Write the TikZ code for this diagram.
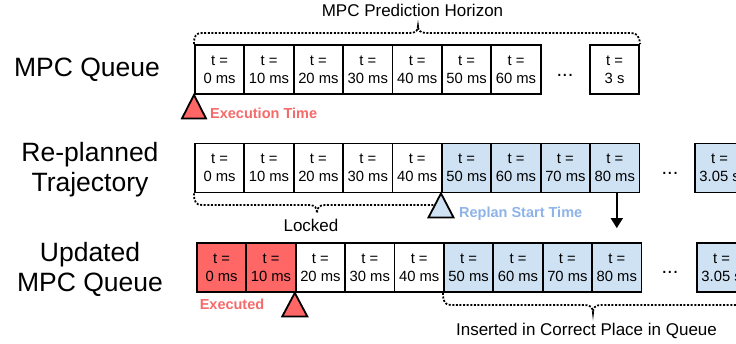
\documentclass[tikz,border=0pt]{standalone}
\usepackage{fontspec}
\setmainfont{Liberation Sans}
\usetikzlibrary{arrows.meta,calc}
\definecolor{execred}{HTML}{FF6666}
\definecolor{exectext}{HTML}{F56A6A}
\definecolor{replanblue}{HTML}{CFE2F3}
\definecolor{replantext}{HTML}{8DB3E8}

\begin{document}
\begin{tikzpicture}[x=1pt,y=-1pt,
  slot/.style={draw, line width=1.8pt, minimum width=49.4pt, minimum height=49pt,
    inner sep=0pt, align=center, anchor=west,
    font=\fontsize{14.8}{17.8}\selectfont},
  done/.style={slot, fill=execred},
  replan/.style={slot, fill=replanblue},
  rowlabel/.style={inner sep=0pt, align=center, font=\fontsize{26.5}{30}\selectfont},
  note/.style={inner sep=0pt, font=\fontsize{17}{20}\selectfont},
  tag/.style={inner sep=0pt, font=\fontsize{14.5}{17}\selectfont\bfseries},
  ellipsis/.style={inner sep=0pt, anchor=base, font=\fontsize{20}{22}\selectfont},
  brace/.style={line width=1.8pt, dash pattern=on 2pt off 1.6pt},
  marker/.style={draw, line width=1.8pt},
]
\clip (0,0) rectangle (736,343);

% row labels
\node[rowlabel] (lqueue) at (87,69.5) {MPC Queue};
\node[rowlabel] (lreplan) at (90,169.5) {Re-planned\\Trajectory};
\node[rowlabel] (lupdated) at (90,269.5) {Updated\\MPC Queue};

% MPC queue
\foreach \t [count=\i from 0] in {0 ms,10 ms,20 ms,30 ms,40 ms,50 ms,60 ms}
  \node[slot] (a\i) at ({194+49.4*\i},69.5) {t =\\\t};
\node[ellipsis] (adots) at (565,76) {...};
\node[slot] (aend) at (589,69.5) {t =\\3 s};

% re-planned trajectory
\foreach \t [count=\i from 0] in {0 ms,10 ms,20 ms,30 ms,40 ms}
  \node[slot] (b\i) at ({194+49.4*\i},168) {t =\\\t};
\foreach \t [count=\i from 5] in {50 ms,60 ms,70 ms,80 ms}
  \node[replan] (b\i) at ({194+49.4*\i},168) {t =\\\t};
\node[ellipsis] (bdots) at (670,174) {...};
\node[replan] (bend) at (694,168) {t =\\3.05 s};

% updated queue
\foreach \t [count=\i from 0] in {0 ms,10 ms}
  \node[done] (c\i) at ({196+49.4*\i},267.5) {t =\\\t};
\foreach \t [count=\i from 2] in {20 ms,30 ms,40 ms}
  \node[slot] (c\i) at ({196+49.4*\i},267.5) {t =\\\t};
\foreach \t [count=\i from 5] in {50 ms,60 ms,70 ms,80 ms}
  \node[replan] (c\i) at ({196+49.4*\i},267.5) {t =\\\t};
\node[ellipsis] (cdots) at (670,273) {...};
\node[replan] (cend) at (696,267.5) {t =\\3.05 s};

% prediction horizon brace
\draw[brace] (a0.north west) .. controls (194,36) and (196,33) .. (202,33) -- (410,33)
  .. controls (416,33) and (418,30) .. (418,26)
  .. controls (418,30) and (420,33) .. (426,33) -- (631,33)
  .. controls (637,33) and (639,36) .. (aend.north east);
\node[note, anchor=base] (horizon) at (412.5,16) {MPC Prediction Horizon};

% locked brace
\draw[brace] (b0.south west) .. controls (194,202) and (196,205) .. (202,205) -- (309,205)
  .. controls (315,205) and (317,208) .. (317,213)
  .. controls (317,208) and (319,205) .. (325,205) -- (433,205)
  .. controls (439,205) and (441,202) .. (b5.south west);
\node[note, anchor=base] (locked) at (311,231.7) {Locked};

% inserted brace
\draw[brace] (c5.south west) .. controls (443,302) and (445,305) .. (451,305) -- (585,305)
  .. controls (591,305) and (593,308) .. (593,313)
  .. controls (593,308) and (595,305) .. (601,305) -- (745,305);
\node[note, anchor=base] (inserted) at (586.5,335) {Inserted in Correct Place in Queue};

% time markers
\draw[marker, fill=execred] (a0.south west) -- ++(12,23.5) -- ++(-24,0) -- cycle;
\node[tag, text=exectext, anchor=base west] (exectime) at (210,118.3) {Execution Time};

\draw[marker, fill=replanblue] (b5.south west) -- ++(12.5,24) -- ++(-25,0) -- cycle;
\node[tag, text=replantext, anchor=base west] (replanstart) at (459,217.3) {Replan Start Time};

\draw[marker, fill=execred] (c2.south west) -- ++(12.5,23.5) -- ++(-25,0) -- cycle;
\node[tag, text=exectext, anchor=base] (executed) at (232,309.3) {Executed};

% insertion arrow
\coordinate (arrowtip) at ($(c8.north)+(0,-14)$);
\draw[line width=1.5pt, -{Triangle[width=12pt,length=10pt]}] (arrowtip |- b8.south) -- (arrowtip);
\end{tikzpicture}
\end{document}
